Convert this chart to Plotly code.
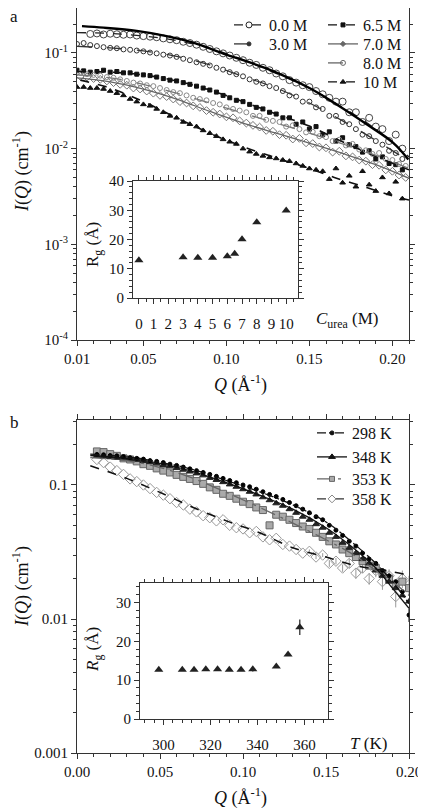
import plotly.graph_objects as go

# the page body adds an 8 px margin, so the figure is sized and placed to compensate
OFF = 8
W, H = 426 - OFF, 811 - OFF
def fx(x): return (x - OFF) / W
def fy(y): return min(1.0, 1 - (y - OFF) / H)

FONT = "Liberation Serif, Times New Roman, serif"

# ---------------- Panel a : urea series ----------------
q_even = [0.010,0.014,0.018,0.022,0.026,0.030,0.034,0.038,0.042,0.046,0.050,0.054,0.058,0.062,0.066,0.070,
          0.074,0.078,0.082,0.086,0.090,0.094,0.098,0.102,0.106,0.110,0.114,0.118,0.122,0.126,0.130,0.134,
          0.138,0.142,0.146,0.150,0.154,0.158,0.162,0.166,0.170,0.174,0.178,0.182,0.186,0.190,0.194,0.198,
          0.202,0.206]
q_odd = [0.012,0.016,0.020,0.024,0.028,0.032,0.036,0.040,0.044,0.048,0.052,0.056,0.060,0.064,0.068,0.072,
         0.076,0.080,0.084,0.088,0.092,0.096,0.100,0.104,0.108,0.112,0.116,0.120,0.124,0.128,0.132,0.136,
         0.140,0.144,0.148,0.152,0.156,0.160,0.164,0.168,0.172,0.176,0.180,0.184,0.188,0.192,0.196,0.200,
         0.204,0.208]

i_00M = [0.158,0.160,0.156,0.159,0.157,0.155,0.156,0.152,0.150,0.148,0.146,0.142,0.139,0.136,0.131,0.127,
         0.122,0.116,0.110,0.104,0.099,0.094,0.089,0.084,0.079,0.075,0.070,0.066,0.061,0.057,0.052,0.049,
         0.046,0.044,0.040,0.037,0.034,0.031,0.031,0.024,0.024,0.019,0.021,0.017,0.016,0.012,0.014,0.010]
i_30M = [0.124,0.127,0.121,0.118,0.115,0.113,0.112,0.109,0.108,0.106,0.104,0.101,0.099,0.096,0.094,0.091,
         0.087,0.084,0.080,0.077,0.074,0.070,0.067,0.063,0.060,0.057,0.053,0.050,0.048,0.045,0.043,0.040,
         0.036,0.035,0.031,0.031,0.027,0.026,0.022,0.022,0.019,0.018,0.016,0.014,0.0135,0.012,0.011,0.0095,
         0.0090,0.0078]
i_65M = [0.066,0.065,0.063,0.064,0.066,0.063,0.064,0.062,0.062,0.060,0.059,0.058,0.056,0.054,0.052,0.051,
         0.049,0.047,0.045,0.043,0.041,0.039,0.036,0.034,0.032,0.031,0.029,0.027,0.026,0.024,0.023,0.021,
         0.021,0.018,0.019,0.016,0.017,0.014,0.015,0.012,0.013,0.011,0.0105,0.0092,0.0095,0.0078,0.0082,0.0070,
         0.0068,0.0060]
i_70M = [0.057,0.056,0.054,0.053,0.051,0.049,0.047,0.046,0.043,0.042,0.040,0.038,0.036,0.035,0.033,0.031,
         0.030,0.028,0.027,0.025,0.024,0.023,0.0215,0.021,0.0195,0.0185,0.0175,0.0168,0.0155,0.0152,0.0140,0.0138,
         0.0126,0.0128,0.0115,0.0113,0.0104,0.0102,0.0092,0.0094,0.0084,0.0082,0.0076,0.0074,0.0068,0.0067,0.0060,0.0058,
         0.0053,0.0050]
i_80M = [0.062,0.060,0.059,0.058,0.056,0.055,0.053,0.051,0.049,0.048,0.046,0.045,0.043,0.041,0.039,0.038,
         0.036,0.034,0.033,0.032,0.030,0.029,0.027,0.026,0.025,0.024,0.022,0.022,0.020,0.0195,0.019,0.017,
         0.0175,0.016,0.0148,0.0150,0.0135,0.0132,0.0120,0.0124,0.0108,0.0112,0.0098,0.0096,0.0088,0.0090,0.0078,0.0076,
         0.0069,0.0066]
i_10M = [0.044,0.044,0.043,0.043,0.042,0.040,0.038,0.036,0.033,0.031,0.029,0.028,0.026,0.024,0.022,0.021,
         0.019,0.018,0.017,0.0155,0.0145,0.0135,0.0125,0.0118,0.0112,0.0100,0.0093,0.0088,0.0084,0.0081,0.0079,0.0076,
         0.0074,0.0070,0.0066,0.0062,0.0060,0.0058,0.0048,0.0062,0.0044,0.0052,0.0040,0.0058,0.0042,0.0036,0.0050,0.0034,
         0.0045,0.0030]

# fitted curves (panel a)
qf_thick = [0.013,0.026,0.046,0.064,0.080,0.100,0.124,0.150,0.165,0.1845,0.2005,0.2096]
if_thick = [0.191,0.184,0.170,0.150,0.128,0.096,0.069,0.043,0.030,0.018,0.0115,0.0077]
qf_a = [0.010,0.030,0.050,0.070,0.090,0.110,0.130,0.150,0.170,0.190,0.210]
if_00M = [0.163,0.160,0.150,0.135,0.112,0.085,0.061,0.043,0.027,0.016,0.0082]
if_30M = [0.117,0.113,0.105,0.092,0.075,0.057,0.043,0.030,0.0195,0.0122,0.0074]
if_65M = [0.064,0.063,0.059,0.051,0.041,0.031,0.023,0.0172,0.0118,0.0083,0.0060]
if_70M = [0.055,0.050,0.042,0.033,0.0245,0.0185,0.0145,0.0114,0.0089,0.0068,0.0049]
if_80M = [0.059,0.055,0.047,0.038,0.030,0.0235,0.0185,0.0145,0.0112,0.0085,0.0062]
qf_10M = [0.012,0.030,0.050,0.070,0.090,0.110,0.130,0.150,0.165,0.185,0.2005,0.210]
if_10M = [0.052,0.043,0.031,0.021,0.0145,0.0105,0.0080,0.0062,0.0050,0.0039,0.0032,0.0029]

# inset a
c_urea = [0, 3, 4, 5, 6, 6.5, 7, 8, 10]
rg_urea = [12.9, 13.9, 13.8, 13.8, 14.3, 15.1, 20.1, 25.9, 29.9]

# ---------------- Panel b : temperature series ----------------
q_b = [0.012,0.016,0.020,0.024,0.028,0.032,0.036,0.040,0.044,0.048,0.052,0.056,0.060,0.064,0.068,0.072,
       0.076,0.080,0.084,0.088,0.092,0.096,0.100,0.104,0.108,0.112,0.116,0.120,0.124,0.128,0.132,0.136,
       0.140,0.144,0.148,0.152,0.156,0.160,0.164,0.168,0.172,0.176,0.180,0.184,0.188,0.192,0.196,0.200]
i_298 = [0.169,0.168,0.166,0.165,0.163,0.160,0.158,0.156,0.152,0.150,0.147,0.143,0.140,0.136,0.132,0.128,
         0.124,0.120,0.116,0.112,0.108,0.104,0.100,0.097,0.093,0.089,0.085,0.082,0.078,0.074,0.070,0.066,
         0.062,0.058,0.055,0.050,0.046,0.042,0.038,0.035,0.031,0.028,0.026,0.023,0.021,0.019,0.016,0.0107]
i_348 = [0.165,0.163,0.161,0.160,0.158,0.156,0.154,0.151,0.148,0.145,0.141,0.138,0.134,0.130,0.126,0.122,
         0.118,0.113,0.109,0.105,0.101,0.097,0.093,0.089,0.085,0.081,0.077,0.073,0.070,0.066,0.062,0.058,
         0.055,0.051,0.048,0.044,0.041,0.037,0.034,0.031,0.028,0.026,0.023,0.021,0.019,0.017,0.015,0.0135]
i_353 = [0.178,0.176,0.170,0.165,0.158,0.155,0.150,0.143,0.139,0.133,0.128,0.124,0.119,0.115,0.111,0.107,
         0.102,0.096,0.092,0.086,0.083,0.079,0.075,0.072,0.068,0.065,0.050,0.060,0.058,0.055,0.052,0.049,
         0.047,0.044,0.041,0.038,0.036,0.033,0.031,0.029,0.027,0.025,0.024,0.022,0.020,0.018,0.019,0.017]
i_358 = [0.155,0.147,0.136,0.128,0.120,0.111,0.106,0.100,0.094,0.088,0.084,0.079,0.074,0.071,0.066,0.063,
         0.059,0.057,0.054,0.055,0.050,0.048,0.047,0.044,0.045,0.041,0.039,0.040,0.036,0.035,0.033,0.031,
         0.032,0.029,0.030,0.026,0.027,0.024,0.026,0.022,0.024,0.020,0.023,0.019,0.021,0.0147,0.020,0.018]
e_358 = [0,0,0,0,0,0,0,0,0,0,0,0,0,0,0,0,
         0,0,0,0,0,0,0,0,0,0,0,0,0,0,0,0,
         0.001,0.001,0.001,0.0015,0.0015,0.0015,0.002,0.002,0.002,0.002,0.0025,0.0025,0.0025,0.0025,0.003,0.003]
e_298 = [0]*47 + [0.0012]

qf_b = [0.008,0.030,0.050,0.070,0.090,0.110,0.130,0.150,0.165,0.180,0.190,0.200]
if_298 = [0.170,0.162,0.148,0.130,0.108,0.089,0.071,0.053,0.038,0.026,0.019,0.013]
if_348 = [0.166,0.158,0.145,0.126,0.104,0.084,0.066,0.048,0.035,0.024,0.017,0.012]
if_353 = [0.160,0.152,0.135,0.112,0.088,0.068,0.052,0.039,0.031,0.023,0.019,0.015]
if_358 = [0.139,0.112,0.088,0.068,0.054,0.044,0.034,0.029,0.0255,0.0235,0.0225,0.0213]

# inset b
temp_K = [298, 308, 313, 318, 323, 328, 333, 338, 348, 353, 358]
rg_temp = [12.7, 12.7, 12.7, 12.8, 12.8, 12.7, 12.7, 12.8, 13.5, 16.6, 23.6]
rg_temp_err = [0, 0, 0, 0, 0, 0, 0, 0.6, 0, 0, 2.0]

fig = go.Figure()

def data_trace(q, i, xa, ya, symbol, size, color, fill, err=None, lw=1):
    mk = dict(symbol=symbol, size=size, color=fill, line=dict(color=color, width=lw))
    t = go.Scatter(x=q, y=i, mode="markers", marker=mk, xaxis=xa, yaxis=ya, showlegend=False,
                   hoverinfo="skip")
    if err is not None:
        t.error_y = dict(type="data", array=err, color=color, thickness=1, width=0)
    fig.add_trace(t)

def fit_trace(q, i, xa, ya, color, dash, width=1.3):
    fig.add_trace(go.Scatter(x=q, y=i, mode="lines", line=dict(color=color, dash=dash, width=width, shape="spline"),
                             xaxis=xa, yaxis=ya, showlegend=False, hoverinfo="skip"))

def legend_item(name, leg, color, dash, symbol, size, fill, width=1.3):
    fig.add_trace(go.Scatter(x=[None], y=[None], mode="lines+markers", name=name, legend=leg,
                             line=dict(color=color, dash=dash, width=width),
                             marker=dict(symbol=symbol, size=size, color=fill, line=dict(color=color, width=1)),
                             xaxis="x", yaxis="y"))

# panel a data
data_trace(q_even[2:], i_00M, "x", "y", "circle-open", 7, "#444", "#444")
data_trace(q_even, i_30M, "x", "y", "circle-open", 5, "#333", "#333")
data_trace(q_even, i_65M, "x", "y", "square", 4, "#111", "#111")
data_trace(q_odd, i_70M, "x", "y", "diamond-open", 6, "#777", "#777")
data_trace(q_odd, i_80M, "x", "y", "circle-open", 5, "#888", "#888")
data_trace(q_even, i_10M, "x", "y", "triangle-up", 5, "#111", "#111")
# panel a fits
fit_trace(qf_a, if_00M, "x", "y", "#222", "dash")
fit_trace(qf_thick, if_thick, "x", "y", "#000", "solid", 2.4)
fit_trace(qf_a, if_30M, "x", "y", "#333", "longdash")
fit_trace(qf_a, if_65M, "x", "y", "#111", "dash", 1.6)
fit_trace(qf_a, if_70M, "x", "y", "#666", "solid")
fit_trace(qf_a, if_80M, "x", "y", "#777", "longdash")
fit_trace(qf_10M, if_10M, "x", "y", "#111", "dash", 1.6)

# inset a
fig.add_trace(go.Scatter(x=c_urea, y=rg_urea, mode="markers", xaxis="x2", yaxis="y2", showlegend=False,
                         marker=dict(symbol="triangle-up", size=8, color="#222"), hoverinfo="skip"))

# panel b data
data_trace(q_b, i_358, "x3", "y3", "diamond-open", 8, "#999", "#999", err=e_358)
data_trace(q_b, i_353, "x3", "y3", "square", 7, "#666", "#aaa")
data_trace(q_b, i_348, "x3", "y3", "triangle-up", 6, "#222", "#222")
data_trace(q_b, i_298, "x3", "y3", "circle", 4, "#000", "#000", err=e_298)
fit_trace(qf_b, if_358, "x3", "y3", "#111", "dash", 1.5)
fit_trace(qf_b, if_353, "x3", "y3", "#666", "longdashdot", 1.3)
fit_trace(qf_b, if_348, "x3", "y3", "#111", "solid", 1.3)
fit_trace(qf_b, if_298, "x3", "y3", "#111", "dashdot", 1.3)

# inset b
fig.add_trace(go.Scatter(x=temp_K, y=rg_temp, mode="markers", xaxis="x4", yaxis="y4", showlegend=False,
                         error_y=dict(type="data", array=rg_temp_err, color="#222", thickness=1.2, width=0),
                         marker=dict(symbol="triangle-up", size=8, color="#222"), hoverinfo="skip"))

# legend entries: one small legend per row, placed like the reference
leg_rows = [
    ("0.0 M", "#222", "dash", "circle-open", 6, "#222", 229, 25),
    ("3.0 M", "#333", "longdash", "circle", 4, "#333", 229, 44),
    ("6.5 M", "#111", "dash", "square", 4, "#111", 323, 25),
    ("7.0 M", "#666", "solid", "diamond", 4, "#666", 323, 44),
    ("8.0 M", "#666", "longdash", "circle-open", 5, "#666", 323, 63),
    ("10 M", "#111", "dash", "triangle-up", 5, "#111", 323, 82),
    ("298 K", "#111", "dashdot", "circle", 4, "#111", 312, 433),
    ("348 K", "#111", "solid", "triangle-up", 6, "#111", 312, 457),
    ("353 K", "#666", "longdashdot", "square", 5, "#aaa", 312, 479),
    ("358 K", "#333", "dash", "diamond-open", 6, "#888", 312, 499),
]
legfont = dict(family=FONT, size=16, color="#111")
leg_layout = {}
for k, (name, col, dash, sym, sz, fill, lx, ly) in enumerate(leg_rows):
    key = "legend" if k == 0 else "legend%d" % (k + 1)
    legend_item(name, key, col, dash, sym, sz, fill)
    leg_layout[key] = dict(x=fx(lx), y=fy(ly), xanchor="left", yanchor="middle", bgcolor="rgba(0,0,0,0)",
                           font=legfont, itemwidth=30, tracegroupgap=0, borderwidth=0)
fig.update_layout(**leg_layout)

tickfont = dict(family=FONT, size=15, color="#111")
axcommon = dict(showline=True, linecolor="#333", linewidth=1, mirror="allticks", ticks="outside",
                ticklen=5, tickcolor="#333", showgrid=False, zeroline=False, tickfont=tickfont,
                automargin=False)
mn = dict(ticks="outside", ticklen=3, tickcolor="#333")

xa_dom = [fx(77), fx(409)]
fig.update_layout(
    xaxis=dict(domain=xa_dom, anchor="y", range=[0.01, 0.21], tickvals=[0.01, 0.05, 0.10, 0.15, 0.20],
               ticktext=["0.01", "0.05", "0.10", "0.15", "0.20"],
               minor=dict(dtick=0.01, tick0=0, **mn), **axcommon),
    yaxis=dict(domain=[fy(340), fy(8)], anchor="x", type="log", range=[-4, -0.53],
               tickvals=[1e-4, 1e-3, 1e-2, 1e-1],
               ticktext=["10<sup>-4</sup>", "10<sup>-3</sup>", "10<sup>-2</sup>", "10<sup>-1</sup>"],
               minor=dict(dtick="D1", **mn), **axcommon),
    xaxis2=dict(domain=[fx(133), fx(298)], anchor="y2", range=[-0.4, 10.8], tickvals=list(range(0, 11)),
                ticklabelstandoff=7, minor=dict(dtick=0.5, tick0=0, **mn), **axcommon),
    yaxis2=dict(domain=[fy(298), fy(181)], anchor="x2", range=[0, 40], tickvals=[0, 10, 20, 30, 40],
                minor=dict(dtick=2, tick0=0, **mn), **axcommon),
    xaxis3=dict(domain=xa_dom, anchor="y3", range=[0, 0.2], dtick=0.05, tick0=0, tickformat=".2f",
                minor=dict(dtick=0.01, tick0=0, **mn), **axcommon),
    yaxis3=dict(domain=[fy(753), fy(420)], anchor="x3", type="log", range=[-3, -0.515],
                tickvals=[0.001, 0.01, 0.1], ticktext=["0.001", "0.01", "0.1"],
                minor=dict(dtick="D1", **mn), **axcommon),
    xaxis4=dict(domain=[fx(140), fx(328)], anchor="y4", range=[290, 370], tickvals=[300, 320, 340, 360],
                ticklabelstandoff=7, minor=dict(dtick=4, tick0=300, **mn), **axcommon),
    yaxis4=dict(domain=[fy(719), fy(583)], anchor="x4", range=[0, 35], tickvals=[0, 10, 20, 30],
                minor=dict(dtick=2, tick0=0, **mn), **axcommon),
)

ann = []
def text(x, y, s, size=17, angle=0, xanchor="center"):
    ann.append(dict(x=fx(x), y=fy(y), xref="paper", yref="paper", text=s, showarrow=False, textangle=angle,
                    xanchor=xanchor, yanchor="middle", font=dict(family=FONT, size=size, color="#111")))

text(14, 16, "a", 17)
text(14, 423, "b", 17)
text(240, 384, "<i>Q</i> (Å<sup>-1</sup>)", 18)
text(240, 797, "<i>Q</i> (Å<sup>-1</sup>)", 18)
text(21, 172, "<i>I</i>(<i>Q</i>) (cm<sup>-1</sup>)", 18, -90)
text(21, 587, "<i>I</i>(<i>Q</i>) (cm<sup>-1</sup>)", 18, -90)
text(94, 245, "R<sub>g</sub> (Å)", 17, -90)
text(94, 650, "<i>R</i><sub>g</sub> (Å)", 17, -90)
text(347, 320, "<i>C</i><sub>urea</sub> (M)", 17)
text(368, 743, "<i>T</i> (K)", 17)

fig.update_layout(annotations=ann, width=W, height=H,
                  margin=dict(l=0, r=0, t=0, b=0, pad=0, autoexpand=False),
                  template="none",
                  paper_bgcolor="white", plot_bgcolor="white", showlegend=True,
                  font=dict(family=FONT, color="#111"))

fig.write_html("out.html")
